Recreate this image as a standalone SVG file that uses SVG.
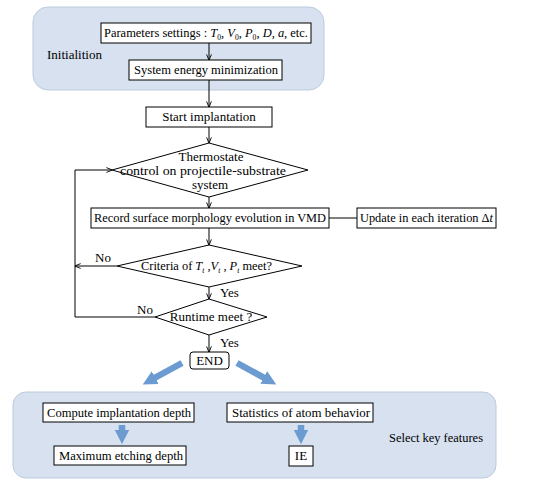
<svg xmlns="http://www.w3.org/2000/svg" width="556" height="492" viewBox="0 0 556 492">
<style>
text{font-size:13px;fill:#000}
.c{text-anchor:middle}
.box{fill:#fff;stroke:#000;stroke-width:1}
.panel{fill:#d7e1ef;stroke:#bccbdd;stroke-width:1}
.ln{fill:none;stroke:#000;stroke-width:1}
.big{fill:none;stroke:#6b9bd1;stroke-width:6.5}
.i{font-style:italic}
.sub{font-size:8px}
</style>
<defs>
<marker id="ah" viewBox="0 0 8 8" refX="7.5" refY="4" markerWidth="6" markerHeight="6" orient="auto">
<path d="M0,0.8 L8,4 L0,7.2" fill="none" stroke="#000" stroke-width="1.2"/>
</marker>
<marker id="bh" viewBox="0 0 10 10" refX="5" refY="5" markerWidth="2.2" markerHeight="2.2" orient="auto">
<path d="M0,0 L10,5 L0,10 Z" fill="#6b9bd1"/>
</marker>
</defs>
<g font-family="Liberation Serif, Times New Roman, serif">
<g id="panel-init">
<rect class="panel" x="33" y="7" width="291" height="83" rx="15"/>
<text x="47" y="59">Initialition</text>
</g>
<g id="panel-features">
<rect class="panel" x="13" y="392" width="483" height="86" rx="13"/>
<text x="389" y="442" textLength="94" lengthAdjust="spacingAndGlyphs">Select key features</text>
</g>
<g id="connectors">
<path class="ln" d="M209,43 V60" marker-end="url(#ah)"/>
<path class="ln" d="M209,80 V107" marker-end="url(#ah)"/>
<path class="ln" d="M209,127 V143" marker-end="url(#ah)"/>
<path class="ln" d="M209,197 V208" marker-end="url(#ah)"/>
<path class="ln" d="M209,228 V245" marker-end="url(#ah)"/>
<path class="ln" d="M209,287 V299" marker-end="url(#ah)"/>
<path class="ln" d="M209,335 V352" marker-end="url(#ah)"/>
<path class="ln" d="M329,218 H357"/>
<path class="ln" d="M117,266 H75" marker-end="url(#ah)"/>
<path class="ln" d="M155,317 H75 V170 H112" marker-end="url(#ah)"/>
<text x="95" y="262">No</text>
<text x="137" y="314">No</text>
<text x="220" y="297">Yes</text>
<text x="220" y="347">Yes</text>
<path class="big" d="M182,363 L149,381" marker-end="url(#bh)"/>
<path class="big" d="M237,363 L270,381" marker-end="url(#bh)"/>
<path class="big" d="M122,425 V437" marker-end="url(#bh)"/>
<path class="big" d="M301,425 V437" marker-end="url(#bh)"/>
</g>
<g id="n-params">
<rect class="box" x="101" y="23" width="210" height="20"/>
<text x="104" y="37" textLength="204" lengthAdjust="spacingAndGlyphs">Parameters settings : <tspan class="i">T</tspan><tspan class="sub" dy="3">0</tspan><tspan dy="-3">, </tspan><tspan class="i">V</tspan><tspan class="sub" dy="3">0</tspan><tspan dy="-3">, </tspan><tspan class="i">P</tspan><tspan class="sub" dy="3">0</tspan><tspan dy="-3">, </tspan><tspan class="i">D</tspan>, <tspan class="i">a</tspan>, etc.</text>
</g>
<g id="n-minimize">
<rect class="box" x="129" y="60" width="153" height="20"/>
<text class="c" x="206" y="74" textLength="144" lengthAdjust="spacingAndGlyphs">System energy minimization</text>
</g>
<g id="n-start">
<rect class="box" x="146" y="107" width="126" height="20"/>
<text class="c" x="209" y="121">Start implantation</text>
</g>
<g id="n-thermostat">
<polygon class="box" points="209,143 308,170 209,197 112,170"/>
<text class="c" x="211" y="161">Thermostate</text>
<text class="c" x="203" y="175" textLength="166" lengthAdjust="spacingAndGlyphs">control on projectile-substrate</text>
<text class="c" x="210" y="189">system</text>
</g>
<g id="n-record">
<rect class="box" x="91" y="208" width="238" height="20"/>
<text class="c" x="210" y="222" textLength="232" lengthAdjust="spacingAndGlyphs">Record surface morphology evolution in VMD</text>
</g>
<g id="n-update">
<rect class="box" x="357" y="208" width="139" height="20"/>
<text x="360" y="222" textLength="133" lengthAdjust="spacingAndGlyphs">Update in each iteration Δ<tspan class="i">t</tspan></text>
</g>
<g id="n-criteria">
<polygon class="box" points="209,245 302,266 209,287 117,266"/>
<text x="141" y="270" textLength="131" lengthAdjust="spacingAndGlyphs">Criteria of <tspan class="i">T</tspan><tspan class="sub i" dy="3">t</tspan><tspan dy="-3"> ,</tspan><tspan class="i">V</tspan><tspan class="sub i" dy="3">t</tspan><tspan dy="-3"> , </tspan><tspan class="i">P</tspan><tspan class="sub i" dy="3">t</tspan><tspan dy="-3"> meet?</tspan></text>
</g>
<g id="n-runtime">
<polygon class="box" points="209,299 267,317 209,335 155,317"/>
<text class="c" x="211" y="321">Runtime meet ?</text>
</g>
<g id="n-end">
<rect class="box" x="190" y="352" width="39" height="17" rx="3"/>
<text class="c" x="209.5" y="365">END</text>
</g>
<g id="n-compute">
<rect class="box" x="43" y="403" width="151" height="19"/>
<text class="c" x="119" y="417" textLength="144" lengthAdjust="spacingAndGlyphs">Compute implantation depth</text>
</g>
<g id="n-max">
<rect class="box" x="54" y="446" width="132" height="19"/>
<text class="c" x="121" y="460" textLength="124" lengthAdjust="spacingAndGlyphs">Maximum etching depth</text>
</g>
<g id="n-stats">
<rect class="box" x="227" y="403" width="146" height="19"/>
<text class="c" x="301" y="417" textLength="138" lengthAdjust="spacingAndGlyphs">Statistics of atom behavior</text>
</g>
<g id="n-ie">
<rect class="box" x="289" y="446" width="24" height="20"/>
<text class="c" x="301" y="460">IE</text>
</g>
</g>
</svg>
